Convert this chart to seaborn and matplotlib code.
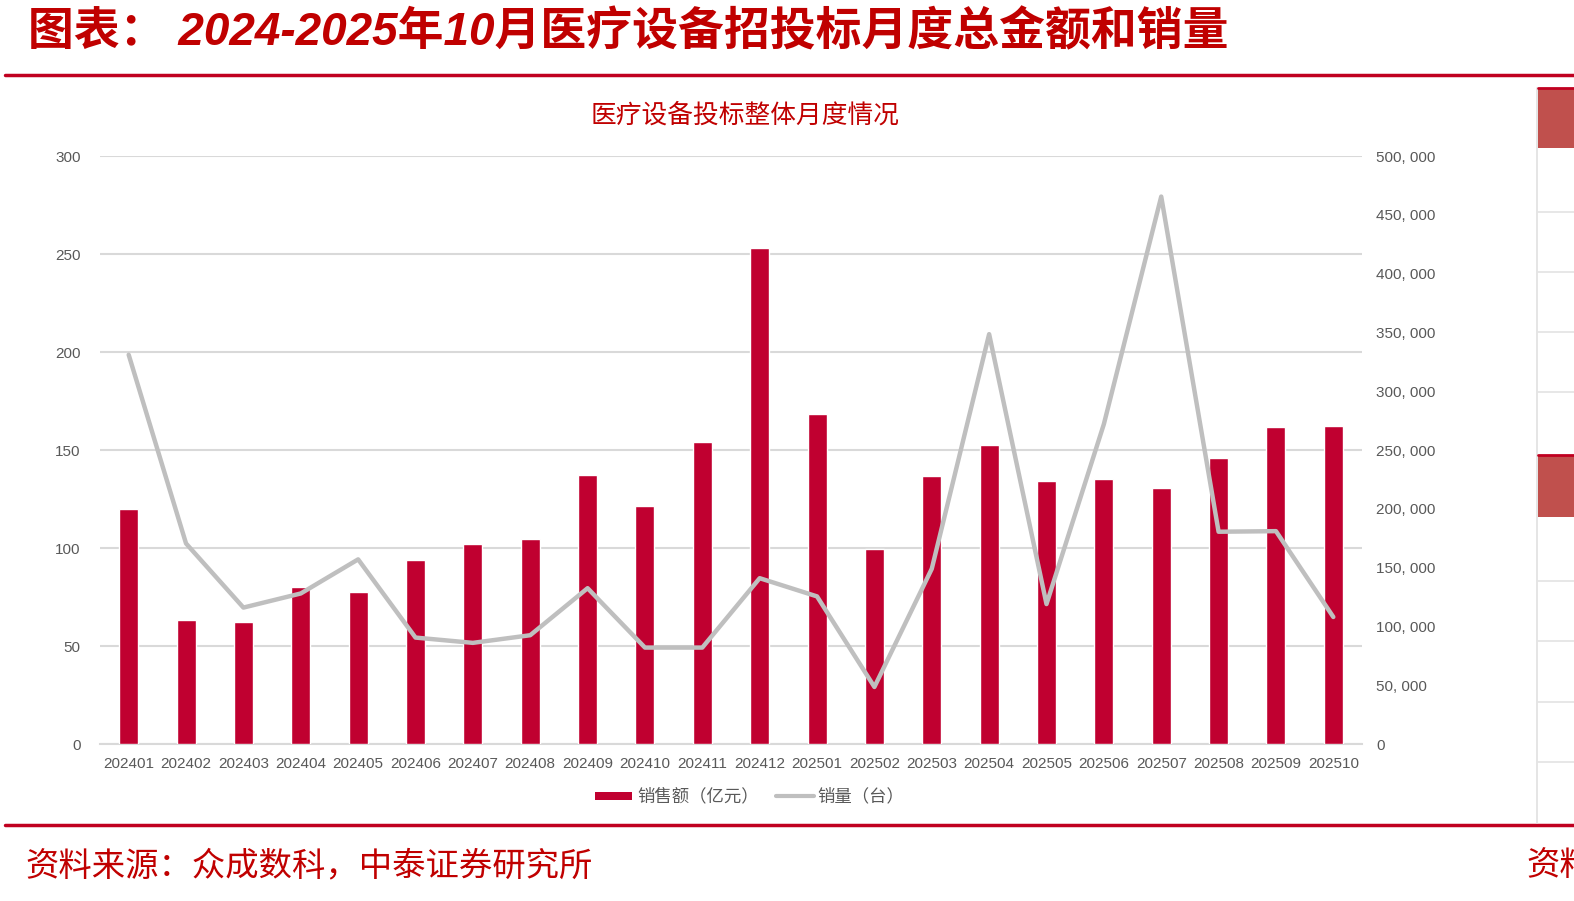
import matplotlib
matplotlib.use("Agg")
import matplotlib.pyplot as plt
import seaborn as sns
import pandas as pd
from matplotlib.patches import Rectangle
from matplotlib.lines import Line2D
from matplotlib.ticker import FuncFormatter, MultipleLocator

months = ["202401", "202402", "202403", "202404", "202405", "202406", "202407",
          "202408", "202409", "202410", "202411", "202412", "202501", "202502",
          "202503", "202504", "202505", "202506", "202507", "202508", "202509", "202510"]
sales = [120, 63.5, 62, 80, 77.5, 94, 102, 104.5, 137.5, 121.5, 154, 253, 168.5,
         99.5, 136.5, 152.5, 134, 135, 130.5, 146, 161.5, 162]
units = [331000, 170500, 116000, 128000, 157000, 90500, 86000, 92500, 132500,
         82000, 82000, 141000, 125500, 48500, 149000, 348500, 119000, 272000,
         465500, 180500, 181000, 108000]

main_title = "图表： 2024-2025年10月医疗设备招投标月度总金额和销量"
chart_title = "医疗设备投标整体月度情况"
legend_labels = ["销售额（亿元）", "销量（台）"]
source_text = "资料来源：众成数科，中泰证券研究所"

sns.set_theme(style="white")
plt.rcParams['font.family'] = ['Liberation Sans', 'Noto Sans CJK SC', 'DejaVu Sans']
CJK = ['Noto Sans CJK SC', 'DejaVu Sans']

RED = "#C00030"
TRED = "#C00000"
GRAY = "#BFBFBF"
GRID = "#D9D9D9"
TXT = "#595959"

W, H = 1574, 901
fig = plt.figure(figsize=(W / 100, H / 100), dpi=100)
fig.patch.set_facecolor("white")

def fx(x):
    return x / W

def fy(y):
    return 1 - y / H

ax = fig.add_axes([fx(100), fy(744), fx(1362) - fx(100), fy(156) - fy(744)])
df = pd.DataFrame({"month": months, "sales": sales, "units": units})

sns.barplot(data=df, x="month", y="sales", color=RED, width=0.33,
            saturation=1, ax=ax, zorder=3)
ax.set_ylim(0, 300)
ax.set_xlim(-0.5, len(months) - 0.5)
ax.yaxis.set_major_locator(MultipleLocator(50))
ax.grid(axis="y", color=GRID, lw=1.5, zorder=0)
ax.set_axisbelow(True)
for s in ["top", "right", "left"]:
    ax.spines[s].set_visible(False)
ax.spines["bottom"].set_color(GRID)
ax.spines["bottom"].set_linewidth(1.5)
ax.set_xlabel("")
ax.set_ylabel("")
ax.tick_params(axis="y", length=0, pad=14, labelsize=11, labelcolor=TXT)
ax.tick_params(axis="x", length=0, pad=9, labelsize=11, labelcolor=TXT)
ax.set_xticks([i - 0.5 for i in range(len(months) + 1)], minor=True)
ax.tick_params(axis="x", which="minor", length=5, width=1.2, color=GRID, direction="out")

ax2 = ax.twinx()
sns.lineplot(data=df, x="month", y="units", color=GRAY, lw=3.2, ax=ax2,
             zorder=4, sort=False)
ax2.set_ylim(0, 500000)
ax2.yaxis.set_major_locator(MultipleLocator(50000))
ax2.yaxis.set_major_formatter(FuncFormatter(lambda v, p: "0" if v == 0 else f"{int(v):,}".replace(",", ", ")))
for s in ["top", "right", "left", "bottom"]:
    ax2.spines[s].set_visible(False)
ax2.set_ylabel("")
ax2.set_xlabel("")
ax2.tick_params(axis="y", length=0, pad=10, labelsize=11, labelcolor=TXT)
ax2.grid(False)
ax.set_xlim(-0.5, len(months) - 0.5)

# Main title
fig.text(fx(28), fy(33), main_title, fontsize=33, color=TRED, fontweight="bold",
         fontstyle="italic", family=['Liberation Sans', 'Noto Sans CJK SC'], va="center", ha="left")
fig.add_artist(Line2D([fx(5), fx(1574)], [fy(75), fy(75)], color="#C00020", lw=2.5))

# Chart title
fig.text(fx(745), fy(116), chart_title, fontsize=18.5, color=TRED, family=CJK,
         va="center", ha="center")

# Legend
fig.add_artist(Rectangle((fx(595), fy(800)), fx(632) - fx(595), fy(792) - fy(800),
                         color=RED, lw=0))
fig.text(fx(637), fy(796), legend_labels[0], fontsize=12.5, color=TXT, family=CJK,
         va="center", ha="left")
fig.add_artist(Line2D([fx(776), fx(814)], [fy(796), fy(796)], color=GRAY, lw=3))
fig.text(fx(817), fy(796), legend_labels[1], fontsize=12.5, color=TXT, family=CJK,
         va="center", ha="left")

# Bottom line and source
fig.add_artist(Line2D([fx(5), fx(1574)], [fy(825), fy(825)], color="#C00020", lw=2.5))
fig.text(fx(25), fy(866), source_text, fontsize=24, color=TRED, family=CJK,
         fontstyle="italic", va="center", ha="left")
fig.text(fx(1526), fy(866), source_text[:2], fontsize=24, color=TRED, family=CJK,
         fontstyle="italic", va="center", ha="left")

# Right-side clipped element
fig.add_artist(Line2D([fx(1537), fx(1537)], [fy(88), fy(823)], color="#E0E0E0", lw=1.2))
for (y0, y1) in [(88, 148), (455, 517)]:
    fig.add_artist(Rectangle((fx(1538), fy(y1)), fx(1574) - fx(1538), fy(y0) - fy(y1),
                             color="#C0504D", lw=0))
    fig.add_artist(Line2D([fx(1538), fx(1574)], [fy(y0), fy(y0)], color="#C00020", lw=2))
for y in [212, 272, 332, 392, 581, 641, 702, 762]:
    fig.add_artist(Line2D([fx(1538), fx(1574)], [fy(y), fy(y)], color="#E3E3E3", lw=1.2))

fig.savefig("out.png", dpi=100, facecolor="white")
